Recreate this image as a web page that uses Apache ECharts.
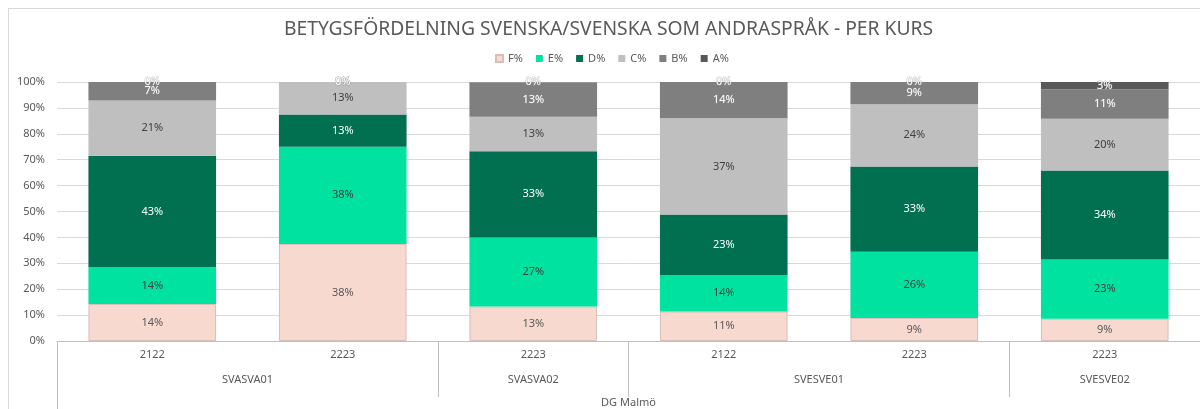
<!DOCTYPE html>
<html lang="sv">
<head>
    <meta charset="UTF-8">
    <title>Betygsfördelning per kurs</title>
    <script src="https://cdn.jsdelivr.net/npm/echarts@6.0.0/dist/echarts.min.js"></script>
    <style>
        body { margin: 0; background: #fff; }
        .frame {
            position: absolute;
            left: 8px;
            top: 8px;
            width: 1200px;
            height: 420px;
            border: 1px solid #d9d9d9;
        }
        #chart {
            position: absolute;
            left: 0;
            top: 0;
            width: 1200px;
            height: 409px;
        }
    </style>
</head>
<body>
    <div class="frame"></div>
    <div id="chart"></div>
    <script>
        // kategorier (läsår) och kurser
        var categories = ['2122', '2223', '2223', '2122', '2223', '2223'];
        var courses = ['SVASVA01', 'SVASVA02', 'SVESVE01', 'SVESVE02'];
        var courseSizes = [2, 1, 2, 1];
        var school = 'DG Malmö';

        // andel per betyg, i procent
        var fPct = [14.3, 37.5, 13.3, 11.4, 8.9, 8.6];
        var ePct = [14.3, 37.5, 26.7, 14.1, 25.6, 22.9];
        var dPct = [42.9, 12.5, 33.3, 23.3, 32.9, 34.3];
        var cPct = [21.4, 12.5, 13.3, 37.2, 24.0, 20.0];
        var bPct = [7.1, 0, 13.3, 14.0, 8.6, 11.4];
        var aPct = [0, 0, 0, 0, 0, 2.8];

        var yTicks = [0, 10, 20, 30, 40, 50, 60, 70, 80, 90, 100];

        var font = 'Noto Sans';
        var textColor = '#595959';

        // gränser och mittpunkter för kursgrupperna
        var bounds = [];
        var centers = [];
        var pos = 0;
        courseSizes.forEach(function (n) {
            centers.push(pos + n / 2);
            pos += n;
            bounds.push(pos);
        });
        var innerBounds = bounds.slice(0, bounds.length - 1);

        var chart = echarts.init(document.getElementById('chart'));

        function makeSeries(name, data, color, labelColor, extra) {
            var s = {
                name: name,
                type: 'bar',
                stack: 'total',
                data: data,
                barCategoryGap: '33%',
                itemStyle: { color: color },
                label: {
                    show: true,
                    position: 'inside',
                    color: labelColor,
                    fontFamily: font,
                    fontSize: 11,
                    formatter: function (p) { return Math.round(p.value) + '%'; }
                },
                emphasis: { disabled: true }
            };
            if (extra) extra(s);
            return s;
        }

        var option = {
            animation: false,
            title: {
                text: 'BETYGSFÖRDELNING SVENSKA/SVENSKA SOM ANDRASPRÅK - PER KURS',
                left: 284,
                top: 20,
                padding: 0,
                textStyle: { fontFamily: font, fontSize: 19.3, fontWeight: 'normal', color: textColor }
            },
            legend: {
                top: 53,
                left: 495,
                padding: 0,
                itemWidth: 7,
                itemHeight: 7,
                itemGap: 13,
                icon: 'rect',
                textStyle: { fontFamily: font, fontSize: 11, color: textColor },
                data: ['F%', 'E%', 'D%', 'C%', 'B%', 'A%']
            },
            grid: {
                left: 57,
                right: 0,
                top: 82,
                bottom: 68,
                containLabel: false,
                outerBoundsMode: 'none'
            },
            xAxis: [
                {
                    type: 'category',
                    data: categories,
                    axisLine: { lineStyle: { color: '#bfbfbf' } },
                    axisTick: { show: false },
                    axisLabel: { margin: 8, fontFamily: font, fontSize: 11, color: textColor }
                },
                {
                    type: 'value',
                    min: 0,
                    max: categories.length,
                    position: 'bottom',
                    axisLine: { show: false },
                    splitLine: { show: false },
                    axisTick: {
                        show: true,
                        customValues: innerBounds,
                        length: 56,
                        lineStyle: { color: '#bfbfbf' }
                    },
                    axisLabel: {
                        customValues: centers,
                        margin: 33,
                        fontFamily: font,
                        fontSize: 11,
                        color: textColor,
                        formatter: function (v) {
                            var i = centers.indexOf(v);
                            return i >= 0 ? courses[i] : '';
                        }
                    }
                },
                {
                    type: 'value',
                    min: 0,
                    max: categories.length,
                    position: 'bottom',
                    axisLine: { show: false },
                    splitLine: { show: false },
                    axisTick: {
                        show: true,
                        customValues: [0, categories.length],
                        length: 70,
                        lineStyle: { color: '#bfbfbf' }
                    },
                    axisLabel: {
                        customValues: [categories.length / 2],
                        margin: 56,
                        fontFamily: font,
                        fontSize: 11,
                        color: textColor,
                        formatter: function () { return school; }
                    }
                }
            ],
            yAxis: {
                type: 'value',
                min: yTicks[0],
                max: yTicks[yTicks.length - 1],
                interval: yTicks[1] - yTicks[0],
                axisLine: { show: false },
                axisTick: { show: false },
                splitLine: { lineStyle: { color: '#d9d9d9' } },
                axisLabel: {
                    margin: 12,
                    fontFamily: font,
                    fontSize: 11,
                    color: textColor,
                    formatter: '{value}%'
                }
            },
            series: [
                makeSeries('F%', fPct, '#f8d9d0', '#595959', function (s) {
                    s.itemStyle.borderColor = '#d6bfb8';
                    s.itemStyle.borderWidth = 1;
                }),
                makeSeries('E%', ePct, '#00e29f', '#404040'),
                makeSeries('D%', dPct, '#007050', '#ffffff'),
                makeSeries('C%', cPct, '#bfbfbf', '#404040'),
                makeSeries('B%', bPct, '#7f7f7f', '#ffffff', function (s) {
                    s.label.textBorderColor = 'rgba(150,150,150,0.6)';
                    s.label.textBorderWidth = 1;
                }),
                makeSeries('A%', aPct, '#595959', '#ffffff', function (s) {
                    s.label.textBorderColor = 'rgba(150,150,150,0.6)';
                    s.label.textBorderWidth = 1;
                })
            ]
        };

        chart.setOption(option);
    </script>
</body>
</html>
